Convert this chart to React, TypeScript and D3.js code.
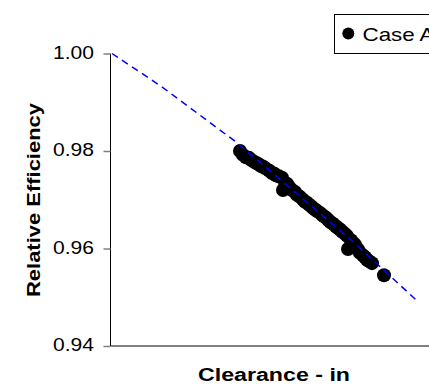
import * as d3 from 'd3'
import { useEffect, useRef } from 'react'

const W = 429
const H = 385
const M = { top: 53.5, left: 110.5, plotRight: 441, axisY: 346 }

// clearance (arbitrary units, no x tick labels in the source) vs relative efficiency
const caseAClearance = [
  0.0129, 0.0132, 0.0135, 0.0138, 0.014, 0.0143, 0.0146, 0.0148, 0.015, 0.0152, 0.0154, 0.0158,
  0.0161, 0.0163, 0.0165, 0.0168, 0.0171, 0.0172, 0.0174, 0.0176, 0.0178, 0.0181, 0.0184, 0.0186,
  0.0189, 0.0192, 0.0194, 0.0196, 0.0198, 0.02, 0.0202, 0.0204, 0.0206, 0.0209, 0.0211, 0.0213,
  0.0215, 0.0217, 0.0219, 0.0221, 0.0223, 0.0225, 0.0227, 0.0229, 0.0231, 0.0234, 0.0236, 0.0237,
  0.024, 0.0242, 0.0244, 0.0247, 0.0249, 0.0252, 0.0254, 0.0256, 0.0258, 0.0261, 0.0273,
]
const caseAEfficiency = [
  0.98, 0.9792, 0.9787, 0.9786, 0.9782, 0.9778, 0.9775, 0.9772, 0.9769, 0.9768, 0.9765, 0.976,
  0.9755, 0.9754, 0.975, 0.9748, 0.9745, 0.972, 0.9727, 0.9733, 0.9727, 0.972, 0.9716, 0.971,
  0.9706, 0.97, 0.9696, 0.9694, 0.969, 0.9687, 0.9683, 0.968, 0.9677, 0.9673, 0.9669, 0.9666,
  0.9663, 0.9659, 0.9655, 0.9652, 0.9649, 0.9645, 0.9642, 0.9639, 0.9635, 0.963, 0.9626, 0.9599,
  0.9617, 0.9612, 0.9608, 0.9598, 0.9591, 0.9586, 0.9582, 0.9577, 0.9574, 0.957, 0.9545,
]
const fitClearance = [0.0001, 0.005, 0.0126, 0.0241, 0.0308]
const fitEfficiency = [1.0, 0.9933, 0.9817, 0.9616, 0.9489]
const yTicks = [0.94, 0.96, 0.98, 1.0]

export default function App() {
  const svgRef = useRef<SVGSVGElement>(null)

  useEffect(() => {
    const svgEl = svgRef.current
    if (!svgEl) return
    const svg = d3.select(svgEl)
    svg.selectAll('*').remove()

    const x = d3.scaleLinear().domain([0, 0.033]).range([111, M.plotRight])
    const y = d3.scaleLinear().domain([0.94, 1.0]).range([M.axisY, M.top])

    // x axis line (gray, no ticks)
    svg
      .append('line')
      .attr('x1', M.left)
      .attr('x2', W)
      .attr('y1', M.axisY)
      .attr('y2', M.axisY)
      .attr('stroke', '#808080')
      .attr('stroke-width', 2)

    const gy = svg.append('g').attr('transform', `translate(${M.left},0)`)
    gy.call(
      d3
        .axisLeft(y)
        .tickValues(yTicks)
        .tickSize(7)
        .tickPadding(10)
        .tickFormat((d) => d3.format('.2f')(Number(d))),
    )
    gy.select('.domain').attr('stroke', '#000').attr('d', `M0,${M.top}V${M.axisY}`)
    gy.selectAll('.tick line').attr('stroke', '#808080').attr('stroke-width', 1.5)
    gy.selectAll('.tick text')
      .attr('fill', '#000')
      .attr('font-family', 'Arial, "Liberation Sans", sans-serif')
      .attr('font-size', 18.5)
      .attr('dy', '0.25em')
      .attr('textLength', 41)
      .attr('lengthAdjust', 'spacingAndGlyphs')
      .attr('text-anchor', 'start')
      .attr('x', -57.5)

    const pts = caseAClearance.map((c, i) => ({ c, e: caseAEfficiency[i] }))
    svg
      .append('g')
      .selectAll('circle')
      .data(pts)
      .join('circle')
      .attr('cx', (d) => x(d.c))
      .attr('cy', (d) => y(d.e))
      .attr('r', 7)
      .attr('fill', '#000')

    const fit = fitClearance.map((c, i) => ({ c, e: fitEfficiency[i] }))
    const line = d3
      .line<{ c: number; e: number }>()
      .x((d) => x(d.c))
      .y((d) => y(d.e))
    svg
      .append('path')
      .attr('d', line(fit) ?? '')
      .attr('fill', 'none')
      .attr('stroke', '#0000ff')
      .attr('stroke-width', 1.5)
      .attr('stroke-dasharray', '7 5')

    // axis titles
    svg
      .append('text')
      .attr('x', 274)
      .attr('y', 381)
      .attr('text-anchor', 'middle')
      .attr('font-family', 'Arial, "Liberation Sans", sans-serif')
      .attr('font-weight', 'bold')
      .attr('font-size', 18)
      .attr('textLength', 152)
      .attr('lengthAdjust', 'spacingAndGlyphs')
      .text('Clearance - in')

    svg
      .append('text')
      .attr('transform', 'translate(39.5,200) rotate(-90)')
      .attr('text-anchor', 'middle')
      .attr('font-family', 'Arial, "Liberation Sans", sans-serif')
      .attr('font-weight', 'bold')
      .attr('font-size', 18)
      .attr('textLength', 194)
      .attr('lengthAdjust', 'spacingAndGlyphs')
      .text('Relative Efficiency')

    // legend
    const lg = svg.append('g')
    lg.append('rect')
      .attr('x', 334.5)
      .attr('y', 14.5)
      .attr('width', 140)
      .attr('height', 39)
      .attr('fill', '#fff')
      .attr('stroke', '#000')
      .attr('stroke-width', 1)
    lg.append('circle').attr('cx', 348.3).attr('cy', 33.5).attr('r', 6).attr('fill', '#000')
    lg.append('text')
      .attr('x', 362.5)
      .attr('y', 40.5)
      .attr('font-family', 'Arial, "Liberation Sans", sans-serif')
      .attr('font-size', 19)
      .attr('textLength', 72)
      .attr('lengthAdjust', 'spacingAndGlyphs')
      .text('Case A')
  }, [])

  return (
    <div style={{ position: 'fixed', left: 0, top: 0, width: W, height: H, background: '#fff' }}>
      <svg ref={svgRef} width={W} height={H} />
    </div>
  )
}
